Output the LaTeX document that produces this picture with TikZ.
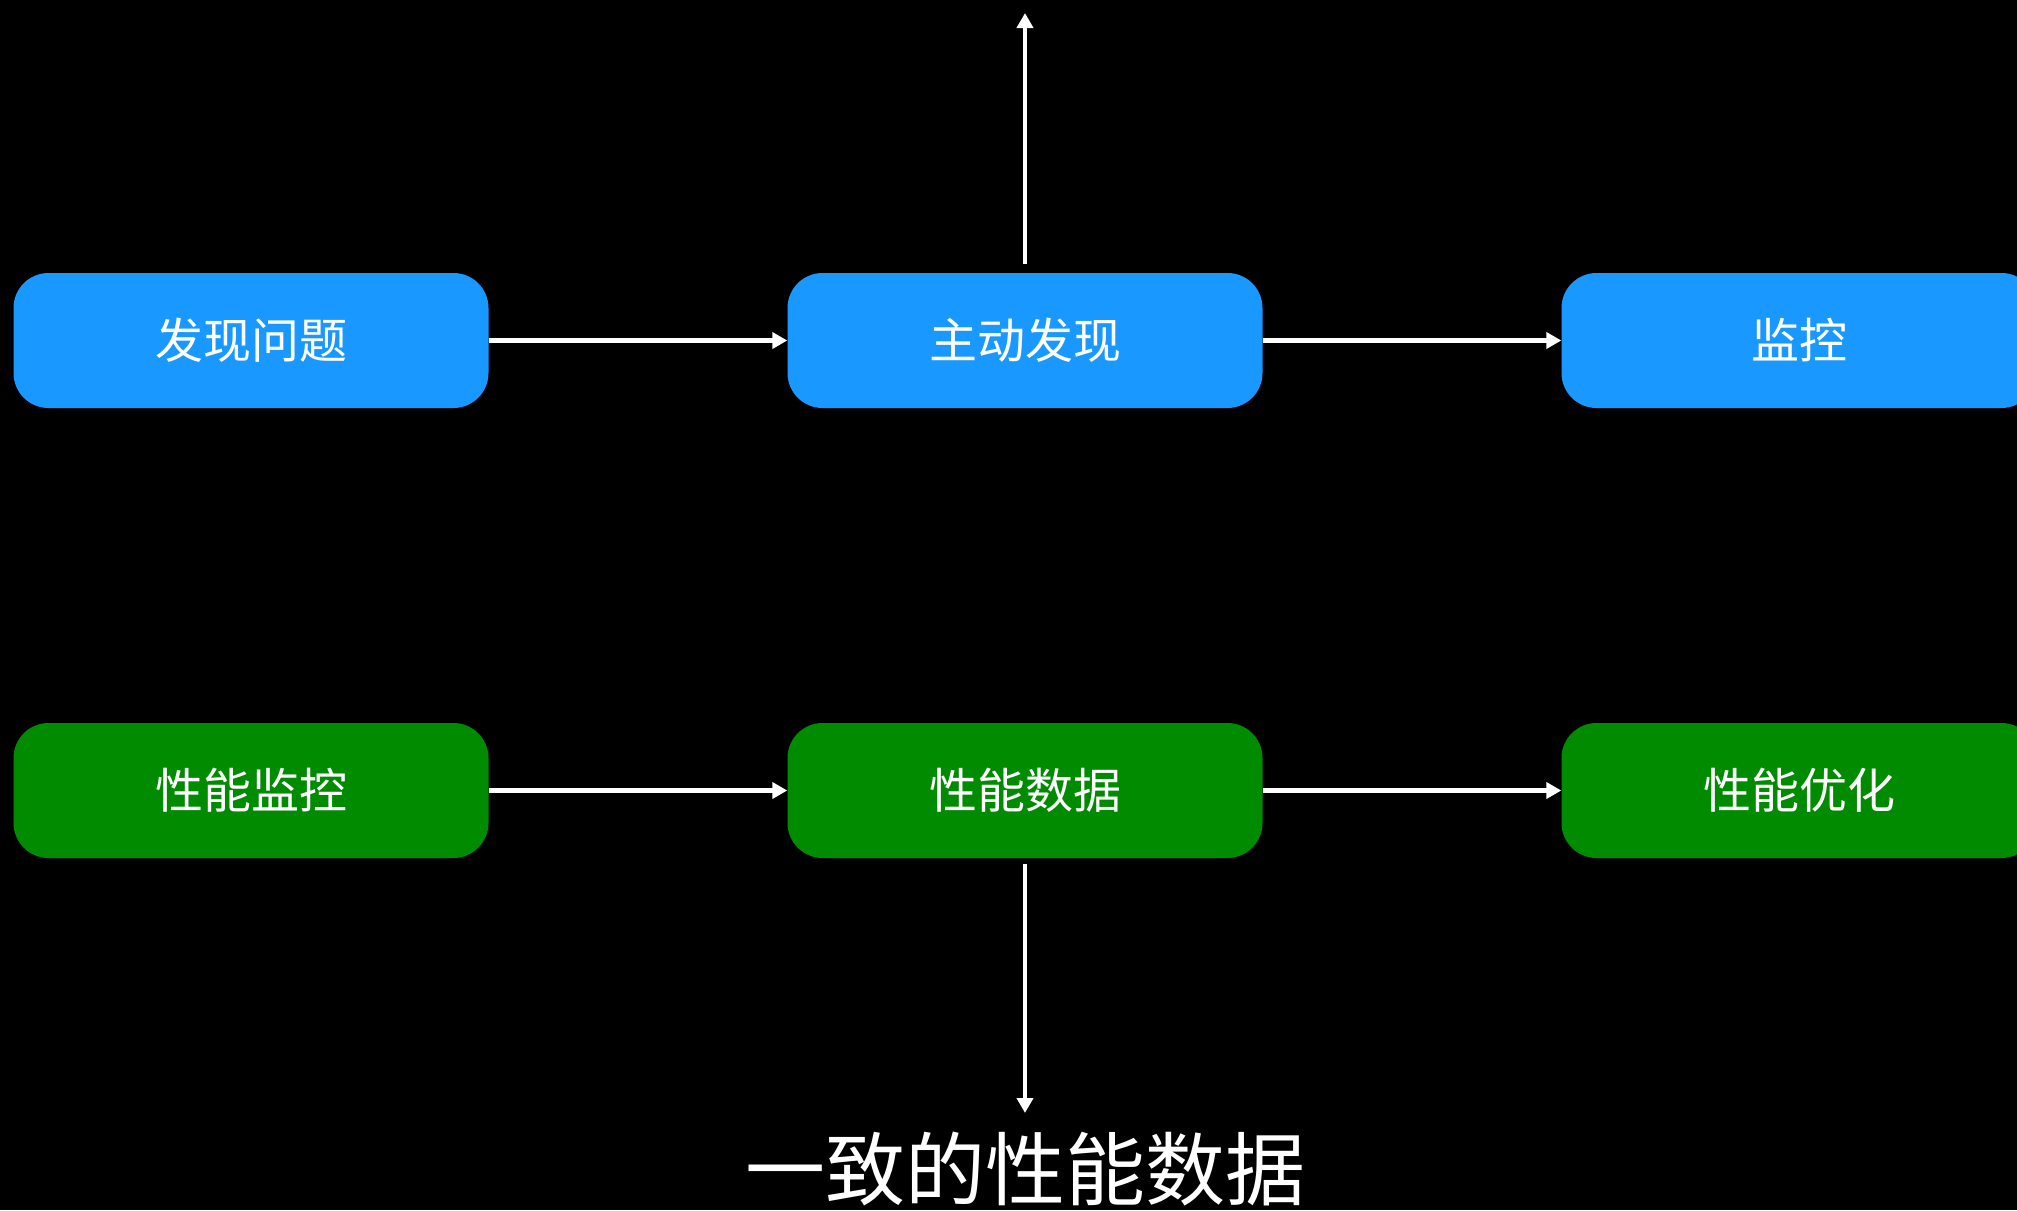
\documentclass[tikz,border=0pt]{standalone}
\usepackage{fontspec}
\newfontfamily\cjk{Noto Sans CJK SC}
\usetikzlibrary{arrows.meta}
\definecolor{boxblue}{RGB}{25,153,255}
\definecolor{boxgreen}{RGB}{0,139,0}
\begin{document}
\begin{tikzpicture}[x=1pt,y=-1pt,
  stepbox/.style={rounded corners=35pt, minimum width=475pt, minimum height=135pt,
    inner sep=0pt, text=white, font=\cjk\fontsize{48}{58}\selectfont},
  bluebox/.style={stepbox, fill=boxblue},
  greenbox/.style={stepbox, fill=boxgreen},
  conn/.style={draw=white, line width=4.5pt, -{Triangle[length=15pt,width=16pt]}},
  bigtext/.style={text=white, font=\cjk\fontsize{80}{96}\selectfont, inner sep=0pt}]
\fill[black] (0,0) rectangle (2017,1210);
\useasboundingbox (0,0) rectangle (2017,1210);

\node[bluebox] (a) at (251,340.5) {发现问题};
\node[bluebox] (b) at (1025,340.5) {主动发现};
\node[bluebox] (c) at (1799,340.5) {监控};

\node[greenbox] (d) at (251,790.5) {性能监控};
\node[greenbox] (e) at (1025,790.5) {性能数据};
\node[greenbox] (f) at (1799,790.5) {性能优化};

\draw[conn] (a.east) -- (b.west);
\draw[conn] (b.east) -- (c.west);
\draw[conn] (d.east) -- (e.west);
\draw[conn] (e.east) -- (f.west);

\coordinate (topend) at (1025,13);
\draw[conn] ([yshift=9pt]b.north) -- (topend);

\coordinate (botend) at (1025,1113);
\draw[conn] ([yshift=-6pt]e.south) -- (botend);

\node[bigtext, anchor=base] (lbl) at (1025,1199) {一致的性能数据};
\end{tikzpicture}
\end{document}
